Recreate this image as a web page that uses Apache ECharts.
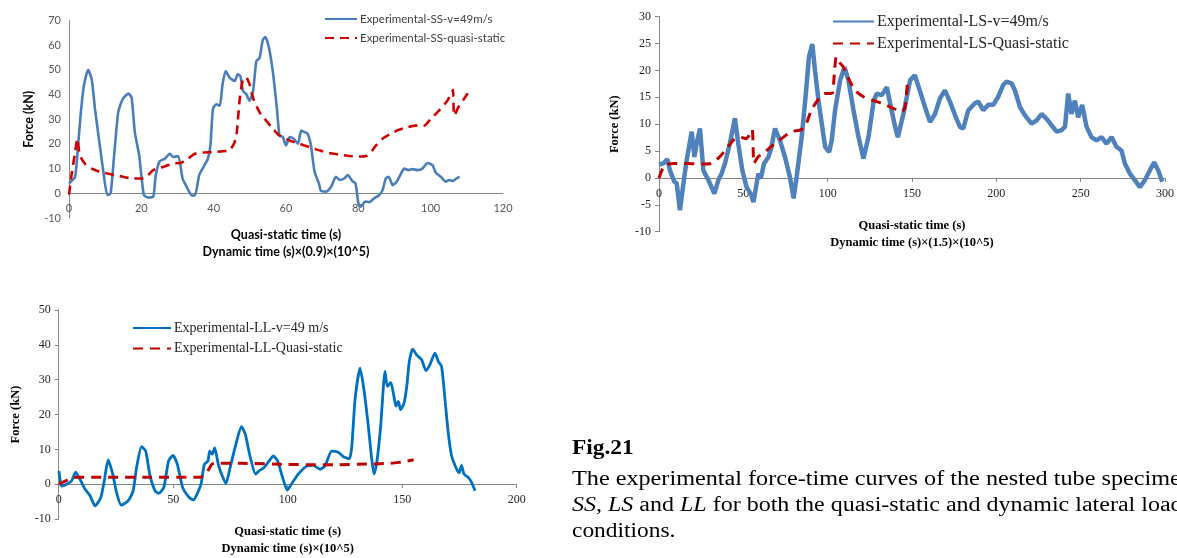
<!DOCTYPE html>
<html>
<head>
<meta charset="utf-8">
<script src="https://cdn.jsdelivr.net/npm/echarts@6/dist/echarts.min.js"></script>
<style>
  html, body { margin: 0; padding: 0; background: #fff; }
  #main { width: 1177px; height: 558px; }
</style>
</head>
<body>
<div id="main"></div>
<script>
// SS specimen, x = quasi-static time (s), y = force (kN)
const ssDynamic = [
  [0, 4], [1, 5.4], [1.7, 6.7], [2.3, 15.4], [3.2, 31.5], [4.1, 43.5], [5.3, 50], [6.3, 46],
  [7.2, 34], [8.4, 20.7], [9.5, 8.7], [10.6, -0.7], [11.5, 0], [12.4, 14], [13.6, 32.8],
  [14.8, 38], [16.4, 40.4], [17.3, 38.8], [18.2, 24.8], [19.4, 15.4], [20.7, -0.7], [21.9, -1.7],
  [23.3, -1.3], [24, 7.4], [25.1, 13], [26.5, 14], [27.9, 16], [28.8, 14.7], [30.2, 15.1],
  [31.4, 6], [32.5, 2.7], [33.8, -0.7], [34.8, -0.9], [36, 7.4], [37.2, 10.7], [38.4, 14],
  [39.1, 19.4], [39.8, 34.1], [40.7, 36.1], [41.7, 35.5], [42.4, 43.5], [43.3, 49.5], [44.4, 46.9],
  [45.8, 45.5], [46.7, 48.2], [47.4, 47.5], [48.1, 41.5], [49, 40.2], [49.9, 37.5], [50.9, 41.5],
  [51.8, 53.5], [52.7, 54.9], [53.6, 62.2], [54.3, 63.3], [55.3, 58.9], [56.4, 48.9], [57.5, 34.1],
  [58.2, 23.4], [59.1, 22.8], [60, 19.4], [61, 22.8], [62.1, 22.1], [63.3, 20.1], [64.2, 25.4],
  [65.1, 24.8], [66, 24.1], [66.9, 19.4], [67.9, 8.7], [69.1, 4], [69.7, 0.9], [71.1, 0.7],
  [72.5, 2.7], [73.8, 6.7], [74.9, 5.4], [76.1, 6], [77.1, 7.4], [78.3, 5], [79.2, 4],
  [80.1, -4.7], [80.7, -5.4], [81.9, -3.3], [83, -3.6], [84.4, -2], [85.8, -0.7], [86.7, 1.3],
  [87.6, 6], [88.4, 6.7], [89.5, 3.3], [90.6, 4.7], [91.8, 8], [92.7, 10], [93.9, 9.4],
  [95, 9.8], [96.4, 9.4], [97.7, 10], [99.1, 12.3], [100.5, 11.4], [101.4, 8.4], [102.8, 6.7],
  [104.2, 4.7], [105.1, 5.4], [106.2, 5], [107.1, 6], [108, 6.7]
];
const ssQuasi = [
  [0, -0.5], [0.7, 7.4], [1.7, 16.7], [2.3, 22], [3, 15.4], [4.4, 12], [6.3, 10], [8.6, 8.7],
  [11.3, 7.8], [15, 6.7], [17.7, 6], [20.5, 6], [21.9, 7.4], [23.3, 9.4], [26, 10.7], [28.8, 12],
  [31.1, 12.4], [32.9, 14], [34.8, 16], [37.1, 16.5], [39.8, 16.7], [42.1, 17], [44.4, 17.4],
  [45.8, 20.7], [46.4, 24.8], [47.2, 38.2], [48.1, 46.2], [49, 46.9], [49.9, 44.2], [51, 38.2],
  [52.7, 32.8], [54.5, 29.5], [56.4, 26.1], [58.2, 23.4], [61, 21.4], [63.7, 20.1], [66.5, 18.7],
  [69.2, 17.4], [72, 16.3], [74.8, 15.7], [77.5, 15.1], [80.3, 14.9], [82.1, 15.1], [83.5, 16.7],
  [84.9, 19.4], [86.7, 22.1], [89, 24.1], [91.3, 25.8], [93.6, 26.8], [95.9, 27.4], [98.2, 27.4],
  [100, 30.1], [102.3, 33.5], [104.6, 37.5], [105.8, 40.8], [106.2, 41.9], [106.5, 31.5],
  [107.9, 35.5], [109.2, 38.2], [111.1, 42.4]
];

// LS specimen
const lsDynamic = [
  [0, 2.5], [2.6, 2.7], [4.9, 3.5], [6.5, 1.4], [9.1, -0.7], [10.5, -1], [12.4, -6], [15, 0.2],
  [16.4, 3.3], [19.4, 8.6], [21, 3.9], [22.3, 6.4], [24.3, 9.2], [26.3, 1.4], [29.3, -0.4],
  [32.8, -2.9], [35.2, -0.4], [37.1, 0.8], [39.1, 2.7], [42, 6.4], [45, 11.1], [47, 6.4],
  [49.4, 1.4], [51.9, -1.7], [54.5, -3], [56, -4.5], [58.9, 0.8], [60.3, -0.1], [62.3, 2.7],
  [64.9, 3.9], [66.5, 5.5], [68.8, 9.2], [71.7, 7], [74.7, 3.9], [77.6, 0.2], [79.8, -3.8],
  [81.6, 0.2], [84.6, 7.6], [86.9, 15.1], [88.9, 22.5], [90.9, 24.9], [92.5, 20], [94.5, 14.5],
  [96.5, 10.1], [98.5, 5.8], [100.9, 4.8], [102.4, 7], [104.4, 12.6], [107.4, 18.2], [110, 20.6],
  [112.3, 18.2], [115.3, 12.6], [118.3, 7.6], [121.2, 3.6], [124.2, 7.6], [127.2, 14.2],
  [129.1, 15.7], [132.1, 15.4], [135.1, 16.9], [137, 13.9], [140, 9.5], [141.6, 7.6],
  [144.9, 11.9], [148.9, 18.2], [151.7, 19.1], [154.6, 16.3], [157.7, 13.2], [160.7, 10.4],
  [163.6, 11.9], [166.6, 14.8], [169.5, 16.3], [172.5, 14.2], [175.5, 11.7], [178.4, 9.5],
  [180.4, 9.2], [183.4, 12.6], [187.3, 13.9], [189.3, 14.2], [192.2, 12.6], [195.2, 13.6],
  [198.2, 13.6], [201.1, 15.1], [204.1, 17.3], [206.1, 17.9], [209, 17.6], [211, 16.3],
  [214, 13.2], [216.9, 11.7], [220.9, 10.1], [223.9, 10.7], [226.8, 11.9], [229.8, 11],
  [232.8, 9.8], [235.7, 8.6], [238.7, 8.9], [240.7, 9.5], [242.6, 15.7], [244.6, 11.9],
  [246.6, 14.4], [248.5, 11.3], [250.9, 13.6], [253.5, 9.5], [256.4, 7.6], [259.4, 7],
  [262.4, 7.6], [265.3, 6.4], [268.3, 7.6], [271.2, 5.8], [274.2, 5.1], [276.2, 2.7],
  [279.2, 0.8], [282.1, -0.4], [285.1, -1.7], [288.1, -0.4], [291, 1.4], [293.6, 2.9],
  [296, 1.4], [298.4, -0.7]
];
const lsQuasi = [
  [0, 0], [3.3, 2.4], [9.2, 2.7], [17.1, 2.7], [25.1, 2.6], [31, 2.7], [35.9, 3.9], [39.9, 5.4],
  [43.9, 7], [47.8, 7.6], [51.8, 7.3], [55.2, 9], [56.3, 2.7], [58.7, 3.9], [62.6, 4.8],
  [67.6, 6.1], [72.5, 7.3], [78.4, 8.6], [84.4, 9], [87.3, 10.1], [90.3, 12.6], [94.2, 14.5],
  [98.2, 15.7], [101.7, 15.7], [103, 15.9], [105.1, 22.5], [107, 21.5], [109.4, 20.6],
  [112.3, 18.5], [116.3, 16.3], [121.2, 15.1], [126.1, 14.5], [132.1, 13.9], [138, 13.1],
  [143.9, 12.3], [145.9, 13.2], [147.5, 18.5]
];

// LL specimen
const llDynamic = [
  [0.1, 3.8], [1.3, -0.5], [3.5, 0], [5.7, 1], [7.4, 3.5], [9.3, 1.4], [11.5, -1.4], [13.7, -3.3],
  [15.9, -6.2], [18.4, -3.8], [19.9, 1], [21.6, 7], [23.6, 2.9], [25.1, -1.9], [27.3, -6],
  [30.3, -4.8], [32.5, -1.9], [34, 4.8], [36.2, 10.8], [38, 9.5], [39.9, 2.4], [42.1, -1.9],
  [43.7, -2.6], [45.9, -0.9], [48, 6.7], [49.9, 8.3], [51.8, 5.7], [54.1, -0.9], [57, -3.8],
  [58.8, -4.5], [60.7, -2.4], [62.2, 0.2], [63.6, 5.7], [65.2, 6.7], [65.9, 9.5], [67.1, 8.6],
  [68.1, 10.5], [69.7, 5.7], [71.1, 2.9], [73, 0.2], [74.9, 4.9], [77, 10.5], [79.8, 16.5],
  [81.5, 14.3], [83.7, 7.6], [86, 2.9], [87.4, 3.8], [89.7, 4.8], [91.9, 6.7], [93.8, 8.1],
  [95.6, 6.7], [97.8, 1.9], [99.8, -1.7], [101.6, 0], [104.6, 2.9], [108.3, 5.2], [111.2, 5.4],
  [114.1, 4.3], [116.3, 5.2], [119.2, 9.5], [122.1, 9.2], [124.3, 7.9], [126.9, 7.3], [128, 10.9],
  [129.4, 24.3], [131.6, 33.3], [133.3, 27.1], [135.2, 16.7], [136.7, 7.1], [137.7, 2.9],
  [138.9, 6.2], [140.6, 16.7], [142.5, 32.4], [143.5, 28.1], [145, 29.2], [146.4, 25.2],
  [147.3, 22.4], [148.3, 23.8], [149.3, 21.4], [150.8, 23.3], [152, 28.1], [153.1, 35.2],
  [154.6, 38.8], [156.3, 37.1], [158.5, 35.7], [160.4, 32.6], [162.1, 34.3], [164.3, 37.6],
  [165.8, 35.2], [167.2, 33.8], [168.7, 24.3], [170.1, 14.8], [171.6, 8.1], [173.8, 4.3],
  [174.9, 3.3], [175.9, 5.4], [177, 2.9], [178.9, 1.9], [180.3, 0.5], [181.8, -1.9]
];
const llQuasi = [
  [0, 0], [5.7, 1.8], [8, 2], [20, 2], [40, 2], [61.7, 2], [64.6, 3.3], [66.8, 5.7], [68, 6],
  [80, 6], [100, 5.7], [110, 5.6], [120, 5.6], [135, 5.8], [145, 6], [150, 6.4], [155, 7]
];

const SANS = 'Lato';
const SERIF = '"Liberation Serif"';
const xTitle1 = 'Quasi-static time (s)\nDynamic time (s)×(0.9)×(10^5)';
const xTitle2 = 'Quasi-static time (s)\nDynamic time (s)×(1.5)×(10^5)';
const xTitle3 = 'Quasi-static time (s)\nDynamic time (s)×(10^5)';

const chart = echarts.init(document.getElementById('main'));

// x axis sits on y = 0, so lift it by the height of the negative part of the y range
function xAxisOf(grid, max, interval, font, size, color, name, gap, tick, lift) {
  return {
    type: 'value', gridIndex: grid, min: 0, max: max, interval: interval,
    position: 'bottom', offset: -lift,
    axisLine: { onZero: false, lineStyle: { color: '#868686', width: 1 } },
    axisTick: { show: tick, length: 4, inside: false, lineStyle: { color: '#868686' } },
    axisLabel: { fontFamily: font, fontSize: size, color: color, margin: 10 },
    splitLine: { show: false },
    name: name, nameLocation: 'middle', nameGap: gap,
    nameTextStyle: { fontFamily: font, fontWeight: 'bold', fontSize: 12.5, color: '#000', lineHeight: 17 }
  };
}
function yAxisOf(grid, min, max, interval, font, size, color, gap, tick) {
  return {
    type: 'value', gridIndex: grid, min: min, max: max, interval: interval,
    axisLine: { show: true, onZero: false, lineStyle: { color: '#868686', width: 1 } },
    axisTick: { show: tick, length: 4, lineStyle: { color: '#868686' } },
    axisLabel: { fontFamily: font, fontSize: size, color: color, margin: 8 },
    splitLine: { show: false },
    name: 'Force (kN)', nameLocation: 'middle', nameGap: gap,
    nameTextStyle: { fontFamily: font, fontWeight: 'bold', fontSize: 12.5, color: '#000' }
  };
}

const legendBase = {
  orient: 'vertical', padding: 0, itemHeight: 14,
  itemStyle: { opacity: 0 }
};

const option = {
  animation: false,
  backgroundColor: '#fff',
  grid: [
    { left: 69, top: 20.5, width: 434, height: 197.5 },
    { left: 659, top: 16.7, width: 506, height: 215 },
    { left: 58.7, top: 310, width: 458, height: 210.5 }
  ],
  xAxis: [
    xAxisOf(0, 120, 20, SANS, 11, '#595959', xTitle1, 33, false, 197.5 * 10 / 80),
    xAxisOf(1, 300, 50, SERIF, 12, '#262626', xTitle2, 39, true, 215 * 10 / 40),
    xAxisOf(2, 200, 50, SERIF, 12, '#262626', xTitle3, 39, true, 210.5 * 10 / 60)
  ],
  yAxis: [
    yAxisOf(0, -10, 70, 10, SANS, 11, '#595959', 34, false),
    yAxisOf(1, -10, 30, 5, SERIF, 12, '#262626', 38, true),
    yAxisOf(2, -10, 50, 10, SERIF, 12, '#262626', 36, true)
  ],
  legend: [
    Object.assign({}, legendBase, {
      data: ['Experimental-SS-v=49m/s', 'Experimental-SS-quasi-static'],
      left: 324, top: 13, itemWidth: 32, itemGap: 7,
      textStyle: { fontFamily: SANS, fontSize: 11.5, color: '#404040', padding: [0, 0, 0, -2] }
    }),
    Object.assign({}, legendBase, {
      data: ['Experimental-LS-v=49m/s', 'Experimental-LS-Quasi-static'],
      left: 832, top: 13.5, itemWidth: 41, itemGap: 6,
      textStyle: { fontFamily: SERIF, fontSize: 16, color: '#262626', padding: [0, 0, 0, -2] }
    }),
    Object.assign({}, legendBase, {
      data: ['Experimental-LL-v=49 m/s', 'Experimental-LL-Quasi-static'],
      left: 132, top: 321, itemWidth: 38, itemGap: 6.5,
      textStyle: { fontFamily: SERIF, fontSize: 14, color: '#262626', padding: [0, 0, 0, -2] }
    })
  ],
  series: [
    {
      name: 'Experimental-SS-v=49m/s', type: 'line', xAxisIndex: 0, yAxisIndex: 0,
      data: ssDynamic, symbol: 'none', smooth: 0.2,
      lineStyle: { color: '#4A7EBB', width: 2.6 }, itemStyle: { color: '#4A7EBB' }
    },
    {
      name: 'Experimental-SS-quasi-static', type: 'line', xAxisIndex: 0, yAxisIndex: 0,
      data: ssQuasi, symbol: 'none', smooth: 0.2,
      lineStyle: { color: '#D00000', width: 2.6, type: [9, 6] }, itemStyle: { color: '#D00000' }
    },
    {
      name: 'Experimental-LS-v=49m/s', type: 'line', xAxisIndex: 1, yAxisIndex: 1,
      data: lsDynamic, symbol: 'none',
      lineStyle: { color: '#4F81BD', width: 4.5 }, itemStyle: { color: '#4F81BD' }
    },
    {
      name: 'Experimental-LS-Quasi-static', type: 'line', xAxisIndex: 1, yAxisIndex: 1,
      data: lsQuasi, symbol: 'none', smooth: 0.2,
      lineStyle: { color: '#C00000', width: 3, type: [10, 7] }, itemStyle: { color: '#C00000' }
    },
    {
      name: 'Experimental-LL-v=49 m/s', type: 'line', xAxisIndex: 2, yAxisIndex: 2,
      data: llDynamic, symbol: 'none', smooth: 0.2,
      lineStyle: { color: '#0070C0', width: 2.8 }, itemStyle: { color: '#0070C0' }
    },
    {
      name: 'Experimental-LL-Quasi-static', type: 'line', xAxisIndex: 2, yAxisIndex: 2,
      data: llQuasi, symbol: 'none', smooth: 0.2,
      lineStyle: { color: '#C00000', width: 3, type: [10, 7] }, itemStyle: { color: '#C00000' }
    }
  ],
  graphic: [
    {
      type: 'text', left: 572, top: 439, scaleX: 1.17,
      style: { text: 'Fig.21', font: 'bold 20px "Liberation Serif"', fill: '#000' }
    },
    {
      type: 'text', left: 572, top: 470, scaleX: 1.21,
      style: {
        text: 'The experimental force-time curves of the nested tube specimens',
        font: '20px "Liberation Serif"', fill: '#000'
      }
    },
    {
      type: 'text', left: 572, top: 496, scaleX: 1.2,
      style: {
        text: '{i|SS,} {i|LS} and {i|LL} for both the quasi-static and dynamic lateral loading',
        font: '20px "Liberation Serif"', fill: '#000',
        rich: { i: { fontStyle: 'italic', fontFamily: 'Liberation Serif', fontSize: 20, fill: '#000' } }
      }
    },
    {
      type: 'text', left: 572, top: 522, scaleX: 1.17,
      style: { text: 'conditions.', font: '20px "Liberation Serif"', fill: '#000' }
    }
  ]
};

chart.setOption(option);
</script>
</body>
</html>
